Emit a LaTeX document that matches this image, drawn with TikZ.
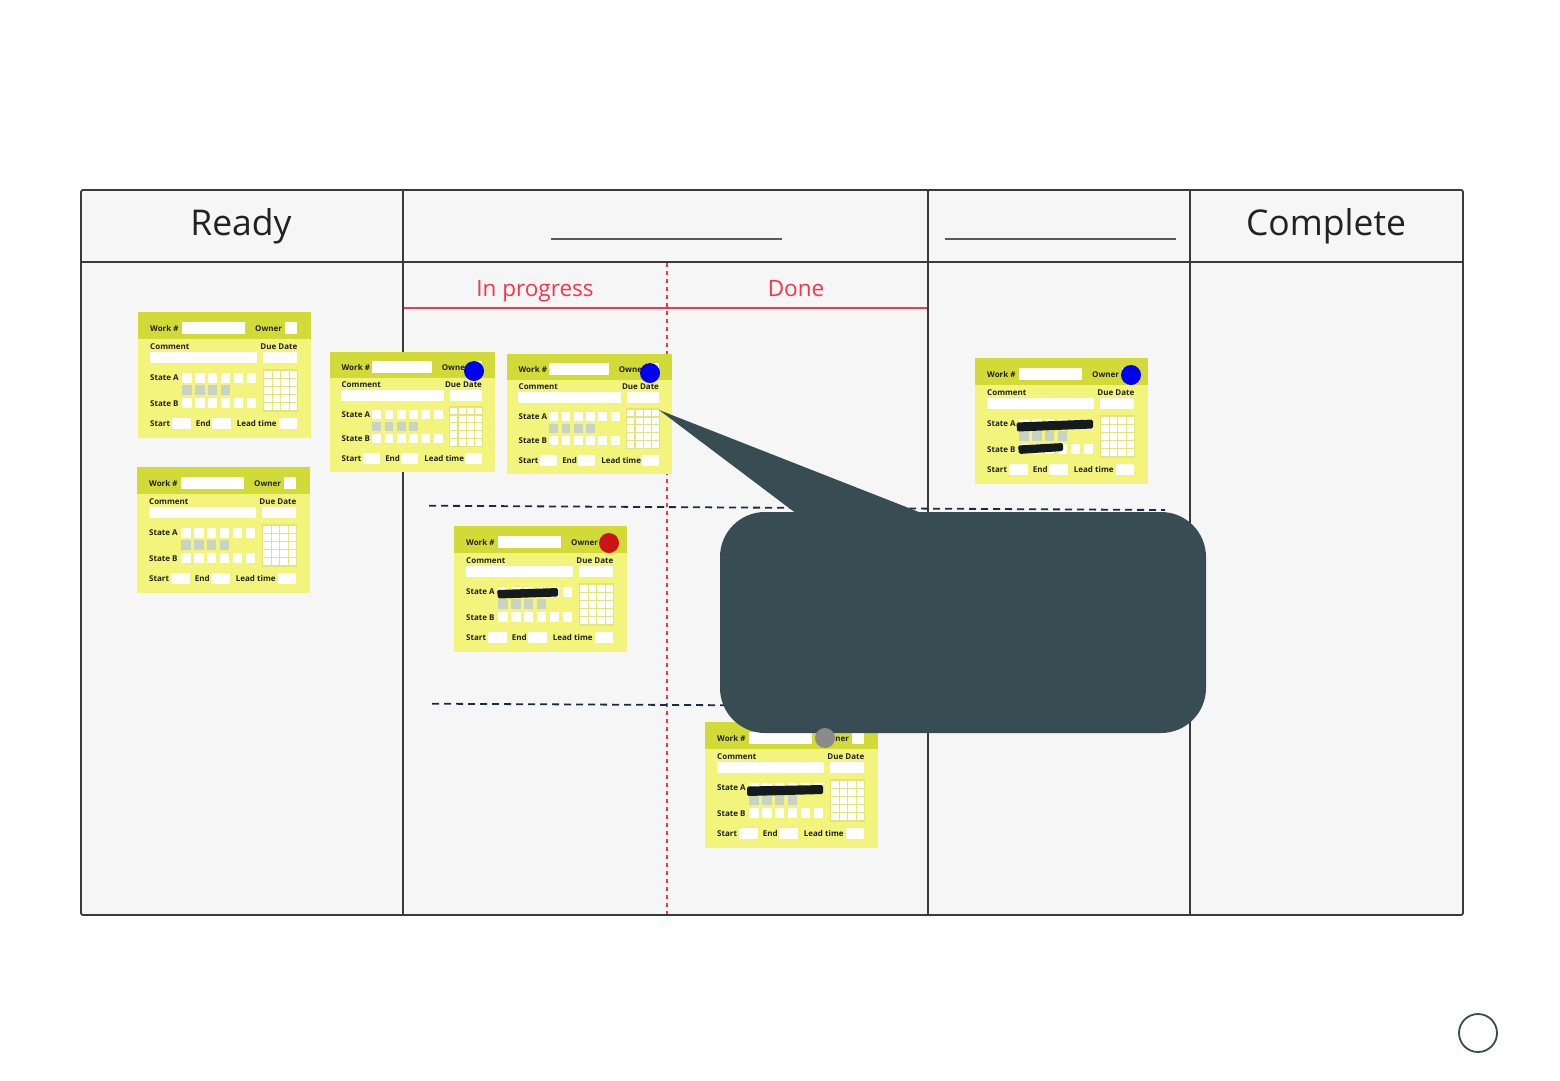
\documentclass[tikz,border=0pt]{standalone}
\usepackage{fontspec}
\setmainfont{Open Sans}
\definecolor{boardfill}{HTML}{F6F6F6}
\definecolor{boardline}{HTML}{3A3A3A}
\definecolor{headline}{HTML}{5A5A5A}
\definecolor{redline}{HTML}{FF3344}
\definecolor{navy}{HTML}{1B2A48}
\definecolor{cardhead}{HTML}{D2DA37}
\definecolor{cardbody}{HTML}{F3F47C}
\definecolor{graybox}{HTML}{C8D3C6}
\definecolor{gridframe}{HTML}{E2E577}
\definecolor{slate}{HTML}{384C53}
\definecolor{redact}{HTML}{151A1C}
\definecolor{dotblue}{HTML}{0000EE}
\definecolor{dotred}{HTML}{CC1414}
\definecolor{dotgray}{HTML}{8A8A8A}
\definecolor{textdark}{HTML}{222222}
\tikzset{
  boardstroke/.style={draw=boardline, line width=1.8pt},
  coltitle/.style={anchor=base, text=textdark, font=\fontsize{35.5}{42}\selectfont, inner sep=0pt},
  subtitle/.style={anchor=base, text=redline, font=\fontsize{22.5}{26}\selectfont, inner sep=0pt},
  lbl/.style={anchor=west, inner sep=0pt, text=textdark, font=\bfseries\fontsize{8}{9.5}\selectfont},
  navydash/.style={draw=navy, line width=1.8pt, dash pattern=on 7pt off 5pt},
  reddash/.style={draw=redline, line width=1.8pt, dash pattern=on 4pt off 4pt},
  dot/.style={circle, minimum size=20pt, inner sep=0pt},
  redactbar/.style={fill=redact, rounded corners=1.5pt},
}
\newcommand{\kanbancard}[3]{%
\begin{scope}[shift={(#1,#2)},scale=#3]
 \fill[cardbody] (0,0) rectangle (173,126);
 \fill[cardhead] (0,0) rectangle (173,27);
 \node[lbl] at (12,16.5) {Work \#};
 \fill[white] (43.7,9.7) rectangle (107,22.3);
 \node[lbl] at (117,16.5) {Owner};
 \fill[white] (147,9.7) rectangle (159.3,22.3);
 \node[lbl] at (12,34.7) {Comment};
 \node[lbl,anchor=east] at (159.5,34.7) {Due Date};
 \fill[white] (12,39.7) rectangle (119.3,51.3);
 \fill[white] (125.3,39.7) rectangle (159.3,51.3);
 \node[lbl] at (12,65.7) {State A};
 \node[lbl] at (12,91.3) {State B};
 \foreach \i in {0,...,5} {
   \fill[white] (44.3+12.9*\i,60.7) rectangle ++(9.3,10);
   \fill[white] (44.3+12.9*\i,86.3) rectangle ++(9.3,9.6);
 }
 \foreach \i in {0,...,3} {
   \fill[graybox] (44.3+12.9*\i,73.3) rectangle ++(9.3,10);
 }
 \fill[gridframe] (124.7,57) rectangle (160.3,99.7);
 \foreach \c in {0,...,3} {
   \foreach \r in {0,...,4} {
     \fill[white] (126.2+8.6*\c,58.5+8.2*\r) rectangle ++(7.3,7);
   }
 }
 \node[lbl] at (12,111.3) {Start};
 \fill[white] (34.3,105.7) rectangle (52.7,117);
 \node[lbl] at (57.7,111.3) {End};
 \fill[white] (74.3,105.7) rectangle (92.7,117);
 \node[lbl] at (98.7,111.3) {Lead time};
 \fill[white] (141.3,105.7) rectangle (159.3,117);
\end{scope}}
\begin{document}
\begin{tikzpicture}[x=1pt,y=-1pt]
\useasboundingbox (0,0) rectangle (1560,1080);
\fill[white] (0,0) rectangle (1560,1080);
% board
\filldraw[boardstroke, fill=boardfill, rounded corners=2pt] (81,190) rectangle (1463,915);
\draw[boardstroke] (81,262) -- (1463,262);
\draw[boardstroke] (403,190) -- (403,915);
\draw[boardstroke] (928,190) -- (928,915);
\draw[boardstroke] (1190,190) -- (1190,915);
% header titles
\node[coltitle] (ready) at (241,235) {Ready};
\node[coltitle] (complete) at (1326,235) {Complete};
\draw[draw=headline, line width=1.4pt] (550.5,239) -- (781.5,239);
\draw[draw=headline, line width=1.4pt] (944.5,239) -- (1175.5,239);
% sub header
\node[subtitle] (inprog) at (535,296) {In progress};
\node[subtitle] (done) at (796,296) {Done};
\draw[draw=redline, line width=1.8pt] (404,308) -- (927,308);
\draw[reddash] (667,263) -- (667,914);
% dashed separators
\draw[navydash] (429,505.7) -- (1165,510);
\draw[navydash] (432,703.7) -- (780,705.5);
% cards
\kanbancard{138}{312}{1}
\kanbancard{137}{467}{1}
\kanbancard{330}{352}{0.954}
\kanbancard{507}{354}{0.954}
\kanbancard{454}{526}{1}
\kanbancard{975}{358}{1}
\kanbancard{705}{722}{1}
% dots
\node[dot, fill=dotblue] (d3) at (474,371) {};
\node[dot, fill=dotblue] (d4) at (650,373) {};
\node[dot, fill=dotred] (d5) at (609,543) {};
\node[dot, fill=dotblue] (d6) at (1131,375) {};
% redaction marks
\fill[redactbar] (497,590) -- (558,588) -- (558,596.5) -- (498,598.5) -- cycle;
\fill[redactbar] (1016.5,422.5) -- (1093,419.5) -- (1093,428.5) -- (1017,431.5) -- cycle;
\fill[redactbar] (1018,445.5) -- (1063,443) -- (1063,451) -- (1019,454) -- cycle;
\fill[redactbar] (747,786.5) -- (823,785) -- (823,794) -- (747,796) -- cycle;
% callout
\node[fill=slate, rounded corners=45pt, minimum width=486pt, minimum height=221pt, inner sep=0pt] (note) at (963,622.5) {};
\coordinate (tip) at (659,410);
\fill[slate] (797,514) -- (tip) -- (924,514) -- cycle;
\node[dot, fill=dotgray] (d7) at (825,738) {};
% corner circle
\node[circle, draw=slate, line width=1.8pt, minimum size=38pt, inner sep=0pt] (ring) at (1478,1033) {};
\end{tikzpicture}
\end{document}
